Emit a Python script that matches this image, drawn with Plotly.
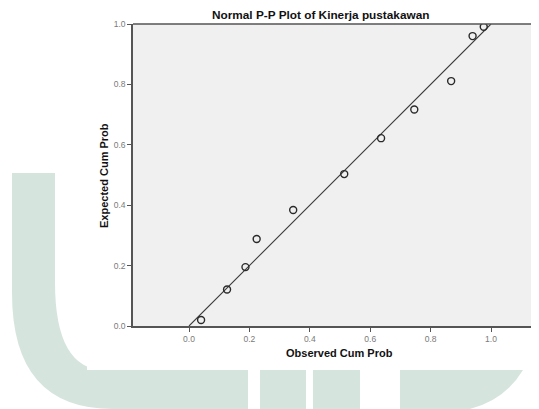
import plotly.graph_objects as go

# Data
observed_cum_prob = [0.040, 0.126, 0.187, 0.224, 0.345, 0.514, 0.636, 0.746, 0.868, 0.939, 0.976]
expected_cum_prob = [0.020, 0.121, 0.195, 0.288, 0.384, 0.503, 0.622, 0.717, 0.811, 0.960, 0.991]
reference_line = [0.0, 1.0]
tick_values = [0.0, 0.2, 0.4, 0.6, 0.8, 1.0]
tick_labels = ["0.0", "0.2", "0.4", "0.6", "0.8", "1.0"]

# page offset caused by the default 8px body margin
OFF = 8
W, H = 539 - OFF, 409 - OFF
PL, PT, PR, PB = 133, 24, 539, 326          # plot area in page pixels
L, T = PL - OFF, PT - OFF
R = W - (PR - OFF)
B = H - (PB - OFF)
PW, PH = PR - PL, PB - PT


def px(x):
    return (x - PL) / PW


def py(y):
    return (PB - y) / PH


FONT = "Arial, Liberation Sans, sans-serif"
WM = "rgb(214,228,222)"

fig = go.Figure()
fig.add_trace(go.Scatter(
    x=reference_line, y=reference_line, mode="lines",
    line=dict(color="#3a3a3a", width=1.1), hoverinfo="skip", showlegend=False))
fig.add_trace(go.Scatter(
    x=observed_cum_prob, y=expected_cum_prob, mode="markers",
    marker=dict(symbol="circle-open", size=7, color="#2a2a2a", line=dict(width=1.4)),
    showlegend=False))

shapes = []
# watermark shapes (background decoration)
u_path = (f"M {px(12)},{py(173)} L {px(55)},{py(173)} L {px(55)},{py(282)} "
          f"Q {px(55)},{py(370)} {px(105)},{py(370)} L {px(248)},{py(370)} "
          f"L {px(248)},{py(409)} L {px(113)},{py(409)} "
          f"Q {px(12)},{py(409)} {px(12)},{py(293)} Z")
shapes.append(dict(type="path", path=u_path, xref="paper", yref="paper",
                   fillcolor=WM, line=dict(width=0), layer="below"))
for x0, x1 in [(260, 306), (313, 360)]:
    shapes.append(dict(type="rect", xref="paper", yref="paper",
                       x0=px(x0), x1=px(x1), y0=py(370), y1=py(409),
                       fillcolor=WM, line=dict(width=0), layer="below"))
r_path = (f"M {px(400)},{py(370)} L {px(523)},{py(370)} "
          f"Q {px(505)},{py(400)} {px(470)},{py(409)} L {px(400)},{py(409)} Z")
shapes.append(dict(type="path", path=r_path, xref="paper", yref="paper",
                   fillcolor=WM, line=dict(width=0), layer="below"))
# white chart panel
shapes.append(dict(type="rect", xref="paper", yref="paper",
                   x0=px(87), x1=px(539), y0=py(370), y1=py(0),
                   fillcolor="white", line=dict(width=0), layer="below"))
# plot area background
shapes.append(dict(type="rect", xref="paper", yref="paper",
                   x0=0, x1=1, y0=0, y1=1,
                   fillcolor="#f0f0f0", line=dict(width=0), layer="below"))
# top border
shapes.append(dict(type="line", xref="paper", yref="paper",
                   x0=0, x1=1, y0=1, y1=1,
                   line=dict(color="#555555", width=1.5), layer="above"))

axis_common = dict(
    showgrid=False, zeroline=False, showline=True, linecolor="#555555", linewidth=1.6,
    ticks="outside", ticklen=4, tickwidth=1, tickcolor="#555555",
    tickvals=tick_values, ticktext=tick_labels,
    tickfont=dict(family=FONT, size=8.5, color="#7a7a7a"),
)

fig.update_layout(
    width=W, height=H,
    margin=dict(l=L, r=R, t=T, b=B, pad=0),
    paper_bgcolor="white", plot_bgcolor="rgba(0,0,0,0)",
    xaxis=dict(range=[(PL - 189) / 302, (PR - 189) / 302], **axis_common),
    yaxis=dict(range=[0, 1], **axis_common),
    shapes=shapes,
    annotations=[
        dict(text="<b>Normal P-P Plot of Kinerja pustakawan</b>", xref="paper", yref="paper",
             x=px(320), y=py(15), xanchor="center", yanchor="middle", showarrow=False,
             font=dict(family=FONT, size=11.8, color="#111")),
        dict(text="<b>Observed Cum Prob</b>", xref="paper", yref="paper",
             x=px(339), y=py(353), xanchor="center", yanchor="middle", showarrow=False,
             font=dict(family=FONT, size=11, color="#111")),
        dict(text="<b>Expected Cum Prob</b>", xref="paper", yref="paper",
             x=px(104), y=py(176), xanchor="center", yanchor="middle", showarrow=False,
             textangle=-90, font=dict(family=FONT, size=11, color="#111")),
    ],
)

fig.write_html("out.html")
